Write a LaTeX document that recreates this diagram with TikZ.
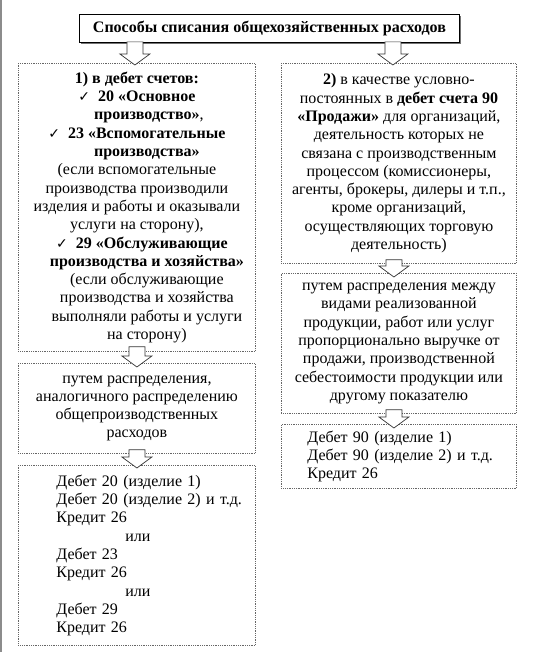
\documentclass[tikz,border=0pt]{standalone}
\usepackage{fontspec}
\setmainfont{Liberation Serif}
\newfontfamily\galkafont{DejaVu Sans}
\usetikzlibrary{calc,shadows}
\newcommand{\galka}{{\galkafont\fontsize{14}{14}\selectfont ✓}}

\begin{document}
\begin{tikzpicture}[x=1pt,y=-1pt]
                \tikzstyle{blok}    = [draw=black!60, densely dotted, line width=0.8pt, inner sep=0pt, anchor=north west, font=\fontsize{16}{18.3}\selectfont]
                \tikzstyle{centr}   = [blok, align=center]
                \tikzstyle{sleva}   = [blok, align=left]
                \tikzstyle{strelka} = [draw=black!80, fill=white, line width=0.7pt, solid,
                    to path={let \p1=(\tikztostart), \p2=(\tikztotarget) in
                    (\x1-8pt,\y1) -- (\x1-8pt,\y2+11pt) -- (\x1-15pt,\y2+11pt) -- (\x1,\y2)
                    -- (\x1+15pt,\y2+11pt) -- (\x1+8pt,\y2+11pt) -- (\x1+8pt,\y1) -- cycle}]
                \useasboundingbox (0,0) rectangle (546,652);
                \draw[black!45, line width=1.5pt] (0.75,0) -- (0.75,652);
                \node [draw, line width=0.9pt, fill=white, anchor=north west, minimum width=380pt, minimum height=28pt,
                       drop shadow={shadow xshift=1.5pt, shadow yshift=-1.5pt, fill=black!55, opacity=1},
                       font=\fontsize{16}{18.3}\selectfont\bfseries](zagolovok) at (79,14) {Способы списания общехозяйственных расходов};
                %% left column
                \node [centr, minimum width=237pt, minimum height=288pt](deb) at (18,63) {%
                    \textbf{1) в дебет счетов:}\\
                    \galka\ \ \textbf{20 «Основное}\\
                    \hspace*{24pt}\textbf{производство»},\\
                    \galka\ \ \textbf{23 «Вспомогательные}\\
                    \hspace*{20pt}\textbf{производства»}\\
                    (если вспомогательные\\
                    производства производили\\
                    изделия и работы и оказывали\\
                    услуги на сторону),\\
                    \hspace*{10pt}\galka\ \ \textbf{29 «Обслуживающие}\\
                    \hspace*{20pt}\textbf{производства и хозяйства»}\\
                    \hspace*{20pt}(если обслуживающие\\
                    \hspace*{20pt}производства и хозяйства\\
                    \hspace*{20pt}выполняли работы и услуги\\
                    \hspace*{20pt}на сторону)};
                \node [centr, minimum width=237pt, minimum height=90pt](analog) at (18,363) {%
                    путем распределения,\\
                    аналогичного распределению\\
                    общепроизводственных\\
                    расходов};
                \node [sleva, text width=237pt, minimum height=180pt,
                       execute at begin node={\leftskip=38pt}](provodki) at (18,465) {%
                    Дебет 20 (изделие 1)\\
                    Дебет 20 (изделие 2) и т.д.\\
                    Кредит 26\\
                    \hspace*{69pt}или\\
                    Дебет 23\\
                    Кредит 26\\
                    \hspace*{69pt}или\\
                    Дебет 29\\
                    Кредит 26};
                %% right column
                \node [centr, minimum width=235pt, minimum height=200pt](prodazhi) at (281,63) {%
                    \textbf{2)} в качестве условно-\\
                    постоянных в \textbf{дебет счета 90}\\
                    \textbf{«Продажи»} для организаций,\\
                    деятельность которых не\\
                    связана с производственным\\
                    процессом (комиссионеры,\\
                    агенты, брокеры, дилеры и т.п.,\\
                    кроме организаций,\\
                    осуществляющих торговую\\
                    деятельность)};
                \node [centr, minimum width=235pt, minimum height=140pt](vyruchka) at (281,273) {%
                    путем распределения между\\
                    видами реализованной\\
                    продукции, работ или услуг\\
                    пропорционально выручке от\\
                    продажи, производственной\\
                    себестоимости продукции или\\
                    другому показателю};
                \node [sleva, text width=235pt, minimum height=64pt,
                       execute at begin node={\leftskip=26pt}](debet90) at (281,424) {%
                    Дебет 90 (изделие 1)\\
                    Дебет 90 (изделие 2) и т.д.\\
                    Кредит 26};
                %%Arrows
                \draw[strelka] ($(zagolovok.south -| deb.north)+(-2,-1)$) to ($(deb.north)+(-2,2)$);
                \draw[strelka] ($(zagolovok.south -| prodazhi.north)+(-6,-1)$) to ($(prodazhi.north)+(-6,2)$);
                \draw[strelka] ($(deb.south)+(0,-5)$) to ($(analog.north)+(0,4)$);
                \draw[strelka] ($(analog.south)+(0,-4)$) to ($(provodki.north)+(0,3)$);
                \draw[strelka] ($(prodazhi.south)+(-5,-4)$) to ($(vyruchka.north)+(-5,4)$);
                \draw[strelka] ($(vyruchka.south)+(-5,-4)$) to ($(debet90.north)+(-5,4)$);
\end{tikzpicture}
\end{document}
